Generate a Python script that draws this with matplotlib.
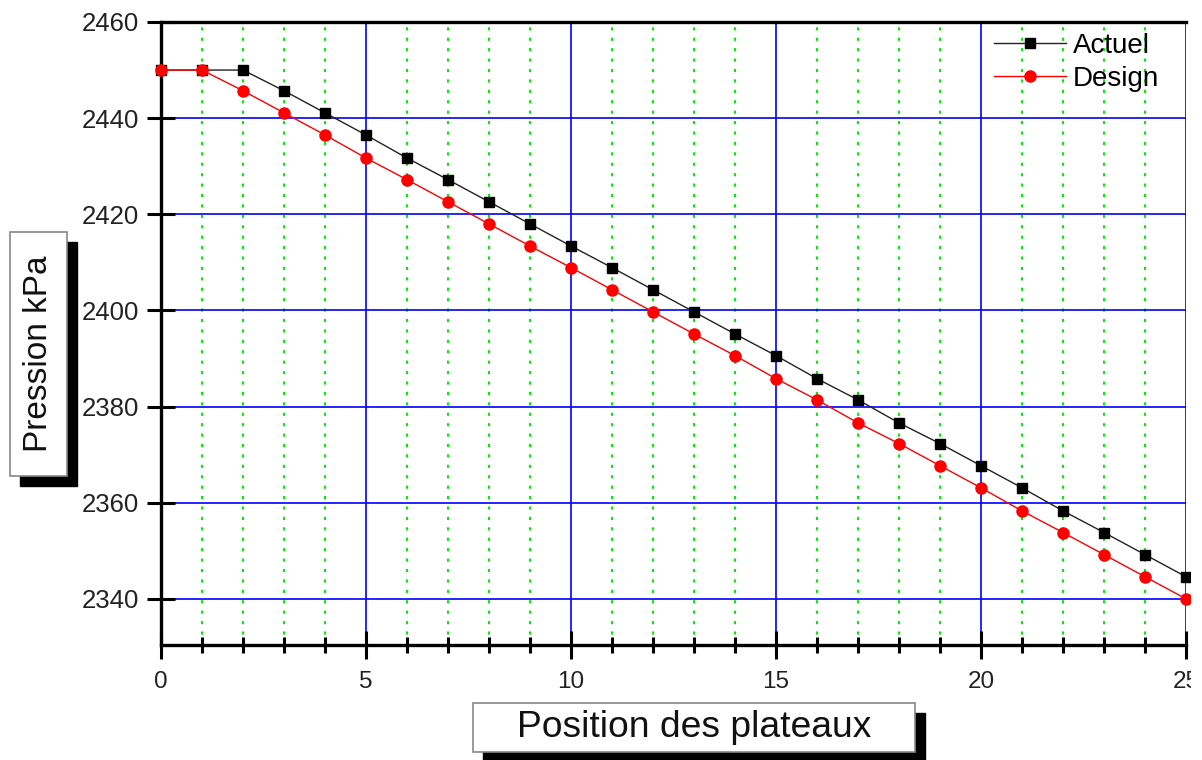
import matplotlib
matplotlib.use("Agg")
import matplotlib.pyplot as plt
from matplotlib.patches import Rectangle

plt.rcParams['font.family'] = ['Liberation Sans', 'DejaVu Sans']

positions = list(range(26))
actuel = [2450.0, 2450.0, 2450.0, 2445.7, 2441.1, 2436.5, 2431.7, 2427.2, 2422.6,
          2418.0, 2413.4, 2408.9, 2404.3, 2399.7, 2395.1, 2390.6, 2385.8, 2381.4,
          2376.6, 2372.3, 2367.7, 2363.1, 2358.3, 2353.8, 2349.2, 2344.6]
design = [2450.0, 2450.0, 2445.7, 2441.1, 2436.5, 2431.7, 2427.2, 2422.6, 2418.0,
          2413.4, 2408.9, 2404.3, 2399.7, 2395.1, 2390.6, 2385.8, 2381.4, 2376.6,
          2372.3, 2367.7, 2363.1, 2358.3, 2353.8, 2349.2, 2344.6, 2340.0]
W, H = 1202, 760

fig = plt.figure(figsize=(W / 100, H / 100), dpi=100)
ax = fig.add_axes([161 / W, 115 / H, 25 * 41 / W, 623 / H])

ax.plot(positions, actuel, color='#222222', lw=1.0, marker='s', ms=7,
        mfc='black', mec='black', label='Actuel', clip_on=False, zorder=3)
ax.plot(positions, design, color='red', lw=1.0, marker='o', ms=8,
        mfc='red', mec='red', label='Design', clip_on=False, zorder=4)

ax.set_xlim(0, 25)
ax.set_ylim(2330.4, 2460)
ax.set_xticks([0, 5, 10, 15, 20, 25])
ax.set_xticks([i for i in range(26) if i % 5], minor=True)
ax.set_yticks([2340, 2360, 2380, 2400, 2420, 2440, 2460])

ax.grid(True, which='major', color='blue', lw=1.2, ls='-')
ax.grid(True, which='minor', axis='x', color='#00ee00', lw=1.5, ls=(0, (1.5, 3.5)))
ax.set_axisbelow(True)

for side in ['left', 'bottom', 'top']:
    ax.spines[side].set_linewidth(2.4)
ax.spines['right'].set_visible(False)

ax.tick_params(which='major', direction='inout', length=20, width=2.2,
               labelcolor='#222222')
ax.tick_params(axis='x', which='major', labelsize=17.5, pad=9)
ax.tick_params(axis='y', which='major', labelsize=18.5, pad=6)
ax.tick_params(which='minor', direction='inout', length=11, width=2.2)
ax.tick_params(axis='y', which='minor', length=0)

ax.legend(loc='upper left', bbox_to_anchor=(994 / W, 1 - 33 / H),
          bbox_transform=fig.transFigure, frameon=False, fontsize=20,
          handlelength=2.6, handletextpad=0.25, labelspacing=0.25,
          borderpad=0, borderaxespad=0)


def label_box(x0, y0, x1, y1, text, rot, size):
    # shadow then white box, coordinates in pixels from top-left
    fig.patches.append(Rectangle(((x0 + 10) / W, 1 - (y1 + 10) / H), (x1 - x0) / W,
                                 (y1 - y0) / H, transform=fig.transFigure,
                                 facecolor='black', edgecolor='black', zorder=1))
    fig.patches.append(Rectangle((x0 / W, 1 - y1 / H), (x1 - x0) / W, (y1 - y0) / H,
                                 transform=fig.transFigure, facecolor='white',
                                 edgecolor='#888888', lw=1.2, zorder=2))
    fig.text((x0 + x1) / 2 / W, 1 - (y0 + y1) / 2 / H, text, rotation=rot,
             ha='center', va='center', fontsize=size, color='#111111', zorder=3)


label_box(10, 232, 67, 476, 'Pression kPa', 90, 24)
label_box(473, 703, 915, 752, 'Position des plateaux', 0, 26.8)

# the source picture is cropped a little past x = 25
fig.patches.append(Rectangle((1191 / W, 0), (W - 1191) / W, 1, transform=fig.transFigure,
                             facecolor='white', edgecolor='none', zorder=10))

fig.savefig('out.png', dpi=100)
